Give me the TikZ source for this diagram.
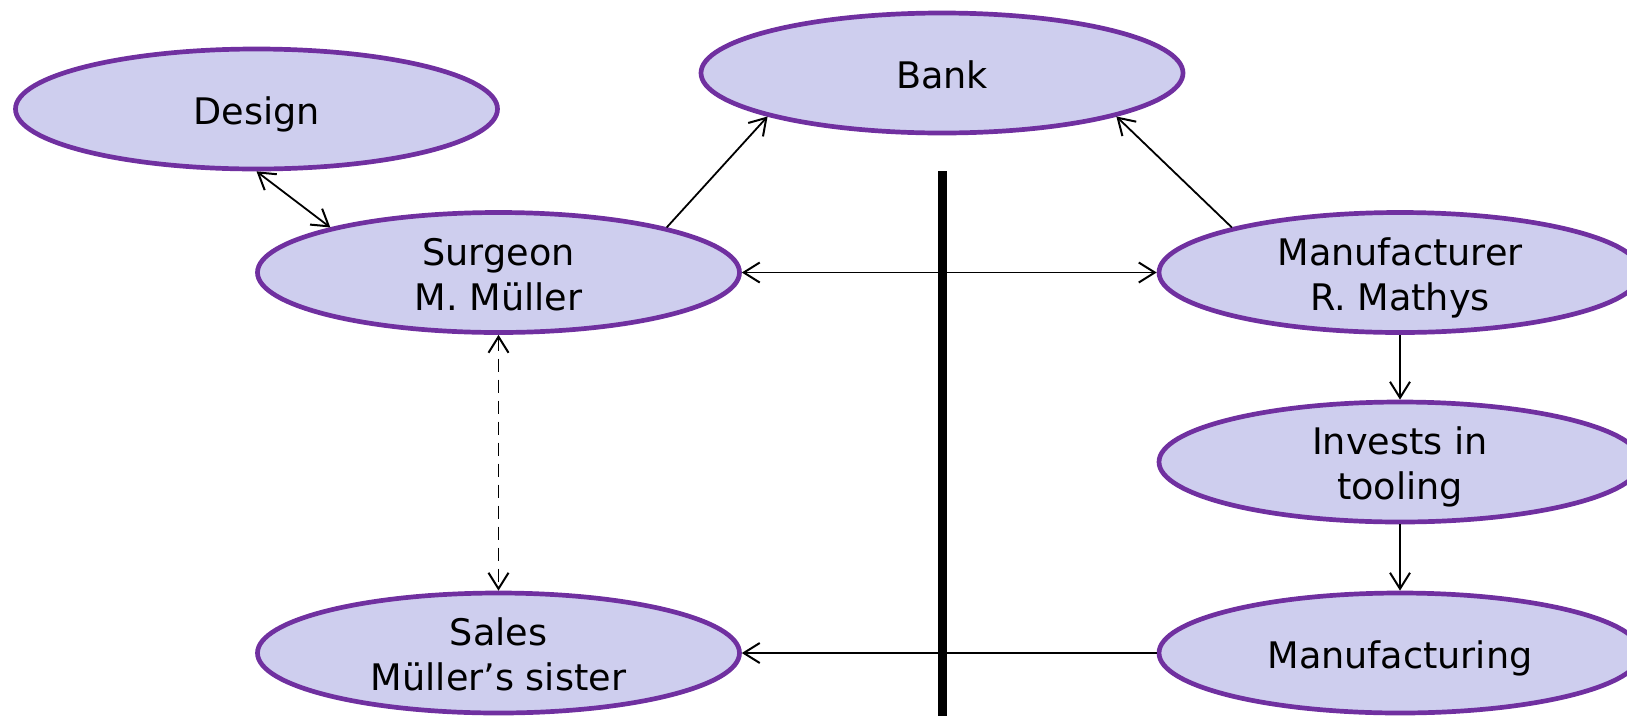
\documentclass[tikz,border=0pt]{standalone}
\usepackage{fontspec}
\setmainfont{DejaVu Sans}
\usetikzlibrary{shapes.geometric,arrows.meta}
\definecolor{ovalfill}{RGB}{206,206,238}
\definecolor{ovaledge}{RGB}{112,48,160}
% centred lines of text, set a little below the middle of the oval
\newcommand\ovaltext[1]{\raisebox{-6pt}[\height][\depth]{%
  \begin{tabular}{@{}c@{}}#1\end{tabular}}}
\tikzset{
  oval/.style={ellipse, draw=ovaledge, fill=ovalfill, line width=4.7pt,
    minimum width=482pt, minimum height=120pt,
    inner xsep=0pt, inner ysep=-20pt,
    font=\fontsize{36.6}{45}\selectfont},
  link/.style={line width=1.8pt, black},
  barb/.tip={Straight Barb[length=16pt, width=20pt, line width=2pt]},
  divider/.style={line width=9pt, black}
}
\begin{document}
\begin{tikzpicture}[x=1pt, y=-1pt]
  \useasboundingbox (0,0) rectangle (1627,716);
  \clip (0,0) rectangle (1627,716);

  % the boxes
  \node[oval] (design)  at (256.5,109)  {\ovaltext{Design}};
  \node[oval] (bank)    at (942,73)     {\ovaltext{Bank}};
  \node[oval] (surgeon) at (498.5,272.5) {\ovaltext{Surgeon\\M. Müller}};
  \node[oval] (maker)   at (1400,272.5) {\ovaltext{Manufacturer\\R. Mathys}};
  \node[oval] (invest)  at (1400,462)   {\ovaltext{Invests in\\tooling}};
  \node[oval] (manuf)   at (1400,653)   {\ovaltext{Manufacturing}};
  \node[oval] (sales)   at (498.5,653)  {\ovaltext{Sales\\Müller’s sister}};

  % dividing bar between the two parties
  \coordinate (bartop) at (942,171);
  \coordinate (barbot) at (942,716);
  \draw[divider] (bartop) -- (barbot);

  % connectors
  \draw[link, barb-barb] (design.south) -- (surgeon.165);
  \draw[link, -barb] (surgeon.15) -- (bank.194);
  \draw[link, -barb] (maker.165) -- (bank.346);
  \draw[link, barb-barb] (surgeon.east) -- (maker.west);
  \draw[link, dash pattern=on 13pt off 8pt, barb-barb] (surgeon.south) -- (sales.north);
  \draw[link, -barb] (maker.south) -- (invest.north);
  \draw[link, -barb] (invest.south) -- (manuf.north);
  \draw[link, -barb] (manuf.west) -- (sales.east);
\end{tikzpicture}
\end{document}
